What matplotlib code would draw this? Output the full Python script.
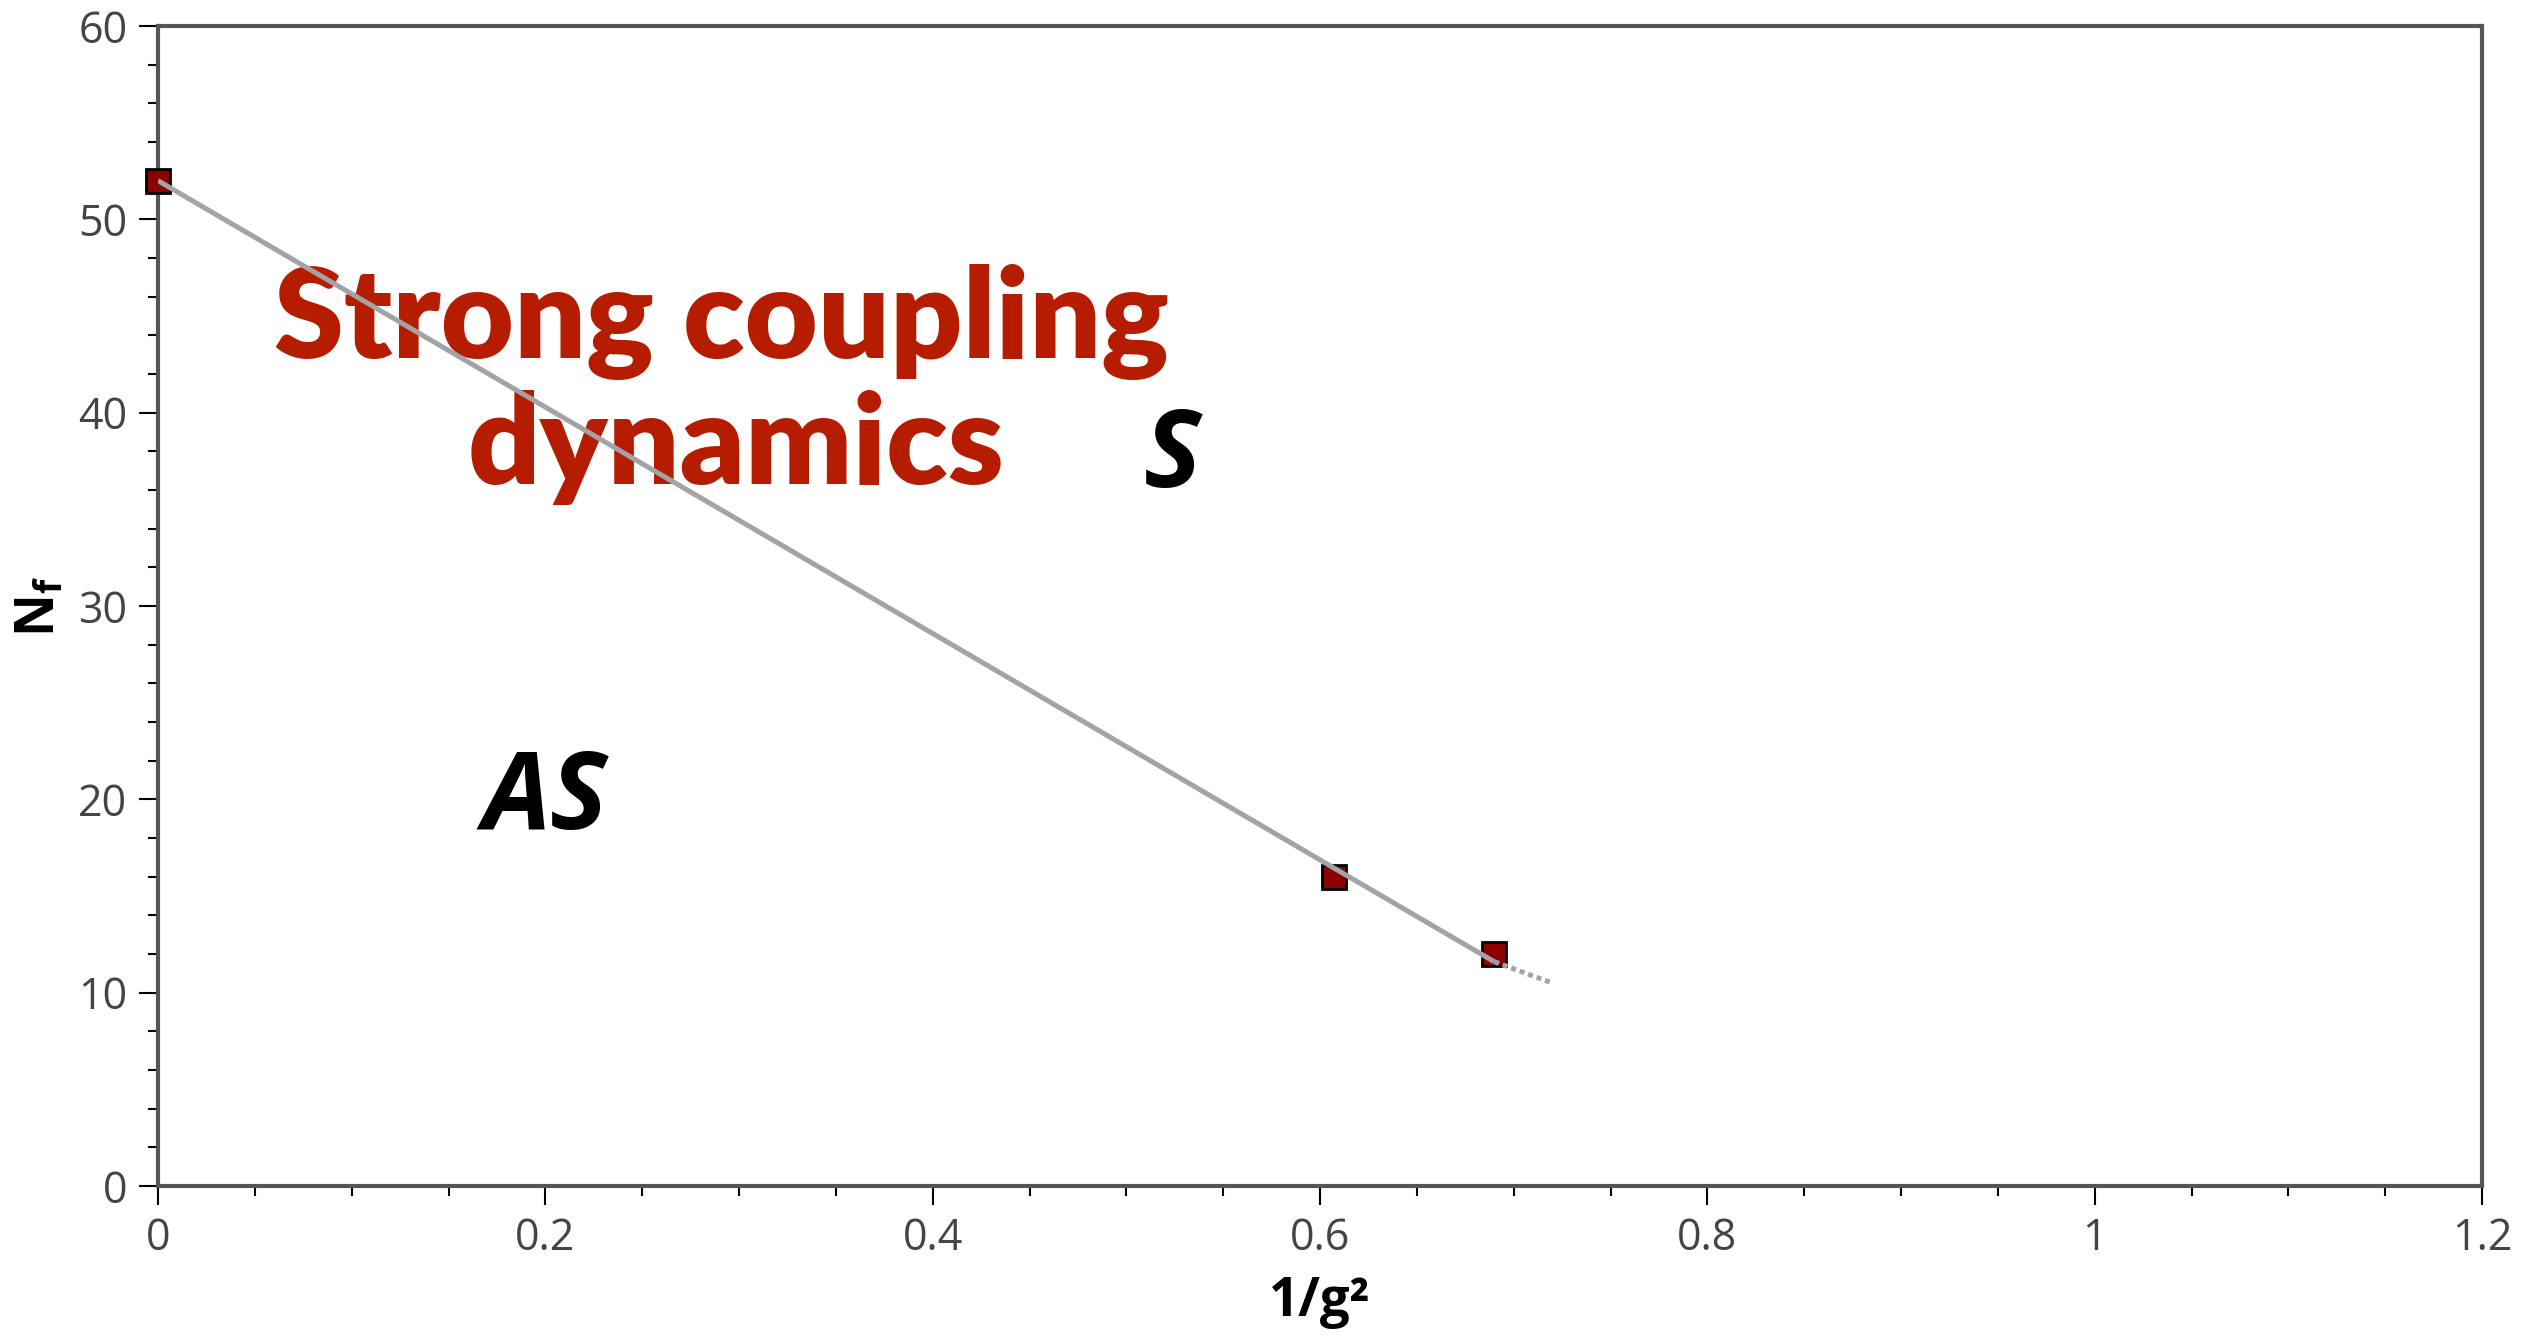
import numpy as np
import matplotlib
matplotlib.use("Agg")
import matplotlib.pyplot as plt
from matplotlib.ticker import MultipleLocator

# Data points (1/g^2, N_f)
inv_g2 = [0.0, 0.607, 0.69]
nf = [52, 16, 12]

# Phase boundary line: solid part and dotted extrapolation
line_x = [0.0, 0.69]
line_y = [52.0, 11.6]
ext_x = [0.69, 0.72]
ext_y = [11.6, 10.5]

fig = plt.figure(figsize=(25.47, 13.37), dpi=100)
ax = fig.add_axes([158/2547, 1 - 1186/1337, (2482-158)/2547, (1186-26)/1337])

ax.plot(inv_g2, nf, linestyle='none', marker='s', markersize=17,
        markerfacecolor='#8b0000', markeredgecolor='black', markeredgewidth=2,
        zorder=3, clip_on=False)
ax.plot(line_x, line_y, color='#a3a3a7', linewidth=3.6, zorder=4, solid_capstyle='butt')
ax.plot(ext_x, ext_y, color='#a3a3a7', linewidth=3.6, linestyle=(0, (1.0, 0.8)), zorder=4)

ax.set_xlim(0, 1.2)
ax.set_ylim(0, 60)
ax.xaxis.set_major_locator(MultipleLocator(0.2))
ax.xaxis.set_minor_locator(MultipleLocator(0.05))
ax.yaxis.set_major_locator(MultipleLocator(10))
ax.yaxis.set_minor_locator(MultipleLocator(2))
ax.set_xticks([0, 0.2, 0.4, 0.6, 0.8, 1.0, 1.2])
ax.set_xticklabels(['0', '0.2', '0.4', '0.6', '0.8', '1', '1.2'])

for sp in ax.spines.values():
    sp.set_color('#555555')
    sp.set_linewidth(3)

ax.tick_params(which='major', direction='out', length=14, width=1.5, color='black',
               labelsize=31, labelcolor='#444444', pad=8)
ax.tick_params(which='minor', direction='out', length=7, width=1.5, color='black')
for lab in ax.get_xticklabels() + ax.get_yticklabels():
    lab.set_family('Open Sans')

ax.set_xlabel('1/g²', fontsize=38, fontweight='bold', family='Open Sans', labelpad=10)
ax.set_ylabel('N$_\\mathregular{f}$', fontsize=38, fontweight='bold', family='Open Sans', labelpad=8)

# region labels
ax.text(0.291, 44.7, 'Strong coupling', color='#b51c00', fontsize=91,
        fontweight='heavy', family='Lato', ha='center', va='center')
ax.text(0.2985, 38.2, 'dynamics', color='#b51c00', fontsize=91,
        fontweight='heavy', family='Lato', ha='center', va='center')
ax.text(0.524, 37.6, 'S', fontsize=78, fontweight='bold', style='italic',
        family='Open Sans', ha='center', va='center')
ax.text(0.2, 19.9, 'AS', fontsize=78, fontweight='bold', style='italic',
        family='Open Sans', ha='center', va='center')

fig.savefig('out.png', dpi=100)
